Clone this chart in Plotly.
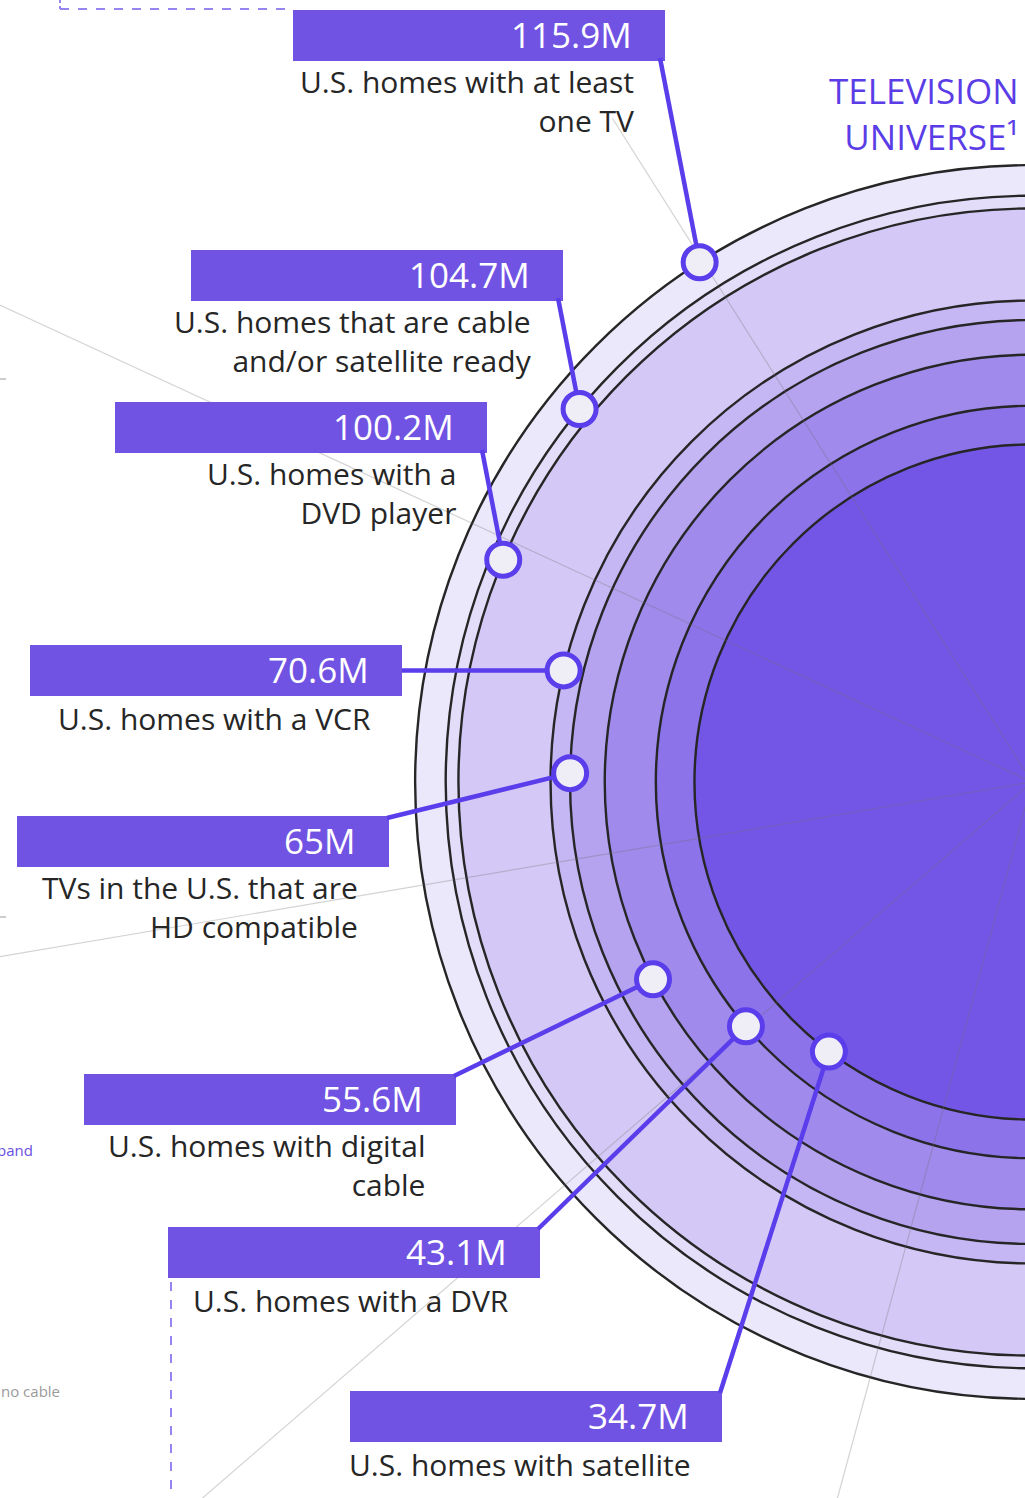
import math
import plotly.graph_objects as go

# ---------------- data ----------------
values = [115.9, 104.7, 100.2, 70.6, 65.0, 55.6, 43.1, 34.7]
value_labels = ["115.9M", "104.7M", "100.2M", "70.6M", "65M", "55.6M", "43.1M", "34.7M"]
descriptions = [
    "U.S. homes with at least<br>one TV",
    "U.S. homes that are cable<br>and/or satellite ready",
    "U.S. homes with a<br>DVD player",
    "U.S. homes with a VCR",
    "TVs in the U.S. that are<br>HD compatible",
    "U.S. homes with digital<br>cable",
    "U.S. homes with a DVR",
    "U.S. homes with satellite",
]
title_text = "TELEVISION<br>UNIVERSE¹"

# ---------------- layout / style ----------------
W, H = 1025, 1498
CX, CY = 1032, 782          # centre of the concentric circles (off-canvas right)
K = 57.3                    # radius scale: r = K * sqrt(value)  (area-proportional)
marker_angles = [122.6, 140.5, 157.2, 166.6, 178.9, 207.5, 220.5, 233.0]
ring_colors = ["#ece8fb", "#e4ddf9", "#d4c9f6", "#c5b7f3", "#b5a3ef",
               "#a08aec", "#8d73e9", "#7456e6"]
bar_left = [293, 191, 115, 30, 17, 84, 168, 350]
bar_top = [10, 250, 402, 645, 816, 1074, 1227, 1391]
leader_from = ["bottom", "bottom", "bottom", "mid", "top", "top", "top", "top"]
BAR_W, BAR_H = 372, 51
BAR_COLOR = "#7153e3"
LINE_COLOR = "#5a3deb"
TEXT_COLOR = "#262626"
FONT = "Open Sans"
spokes = [(122.3, 785), (155.2, 1500), (189.6, 1500), (220.8, 1500), (254.8, 1500)]

fig = go.Figure()
shapes = []
annotations = []

# concentric circles
for v, col in zip(values, ring_colors):
    r = K * math.sqrt(v)
    shapes.append(dict(type="circle", xref="x", yref="y",
                       x0=CX - r, x1=CX + r, y0=CY - r, y1=CY + r,
                       fillcolor=col, line=dict(color="#262626", width=2.4),
                       layer="below"))

# spokes
for ang, length in spokes:
    a = math.radians(ang)
    shapes.append(dict(type="line", xref="x", yref="y",
                       x0=CX, y0=CY,
                       x1=CX + length * math.cos(a), y1=CY - length * math.sin(a),
                       line=dict(color="rgba(110,110,110,0.30)", width=1.2),
                       layer="below"))

# small edge ticks
for ty in [379, 917]:
    shapes.append(dict(type="line", xref="x", yref="y", x0=0, x1=6, y0=ty, y1=ty,
                       line=dict(color="#bdbdbd", width=1.5), layer="below"))

# dashed guide lines
DASH_COL = "#9685f0"
shapes.append(dict(type="line", xref="x", yref="y", x0=60, x1=293, y0=9, y1=9,
                   line=dict(color=DASH_COL, width=2, dash="dash"), layer="below"))
shapes.append(dict(type="line", xref="x", yref="y", x0=60, x1=60, y0=0, y1=9,
                   line=dict(color=DASH_COL, width=2, dash="dot"), layer="below"))
shapes.append(dict(type="line", xref="x", yref="y", x0=171, x1=171, y0=1282, y1=H,
                   line=dict(color=DASH_COL, width=2, dash="dash"), layer="below"))

# label bars
for bl, bt in zip(bar_left, bar_top):
    shapes.append(dict(type="rect", xref="x", yref="y",
                       x0=bl, x1=bl + BAR_W, y0=bt, y1=bt + BAR_H,
                       fillcolor=BAR_COLOR, line=dict(width=0), layer="below"))

# leader lines + markers
mx, my = [], []
for v, ang, bl, bt, lf in zip(values, marker_angles, bar_left, bar_top, leader_from):
    r = K * math.sqrt(v)
    a = math.radians(ang)
    px, py = CX + r * math.cos(a), CY - r * math.sin(a)
    mx.append(px)
    my.append(py)
    right = bl + BAR_W
    if lf == "bottom":
        sx, sy = right - 5, bt + BAR_H - 3
    elif lf == "top":
        sx, sy = right - 2, bt + 2
    else:
        sx, sy = right, bt + BAR_H / 2
    fig.add_trace(go.Scatter(x=[sx, px], y=[sy, py], mode="lines",
                             line=dict(color=LINE_COLOR, width=4.5),
                             hoverinfo="skip", showlegend=False))

fig.add_trace(go.Scatter(x=mx, y=my, mode="markers",
                         marker=dict(size=33, color="#efedf6",
                                     line=dict(color=LINE_COLOR, width=5)),
                         hoverinfo="skip", showlegend=False))

# texts
for lab, desc, bl, bt in zip(value_labels, descriptions, bar_left, bar_top):
    tx = bl + BAR_W - 31
    annotations.append(dict(x=tx, y=bt + BAR_H / 2 - 1, xref="x", yref="y",
                            text=lab, showarrow=False, xanchor="right", yanchor="middle",
                            font=dict(family=FONT, size=35, color="white")))
    n_lines = desc.count("<br>") + 1
    annotations.append(dict(x=tx + 2, y=bt + BAR_H + 22 + (n_lines - 1) * 17.5,
                            xref="x", yref="y",
                            text=desc, showarrow=False, xanchor="right",
                            yanchor="middle", align="right",
                            font=dict(family=FONT, size=30, color=TEXT_COLOR)))

# title
annotations.append(dict(x=1021, y=113, xref="x", yref="y", text=title_text,
                        showarrow=False, xanchor="right", yanchor="middle",
                        align="right",
                        font=dict(family=FONT, size=35, color="#5a3de6")))

# faint cut-off side texts
annotations.append(dict(x=35, y=1150, xref="x", yref="y", text="band",
                        showarrow=False, xanchor="right", yanchor="middle",
                        font=dict(family=FONT, size=15, color="#6a50e0")))
annotations.append(dict(x=62, y=1391, xref="x", yref="y", text="no cable",
                        showarrow=False, xanchor="right", yanchor="middle",
                        font=dict(family=FONT, size=15, color="#9a9a9a")))

fig.update_layout(
    width=W, height=H,
    margin=dict(l=0, r=0, t=0, b=0),
    paper_bgcolor="white", plot_bgcolor="white",
    xaxis=dict(range=[0, W], visible=False, fixedrange=True),
    yaxis=dict(range=[H, 0], visible=False, fixedrange=True),
    shapes=shapes, annotations=annotations,
    showlegend=False, hovermode=False,
)

fig.write_html("out.html", config={"displayModeBar": False},
               post_script="document.body.style.margin='0';"
                           "document.body.style.overflow='hidden';")
